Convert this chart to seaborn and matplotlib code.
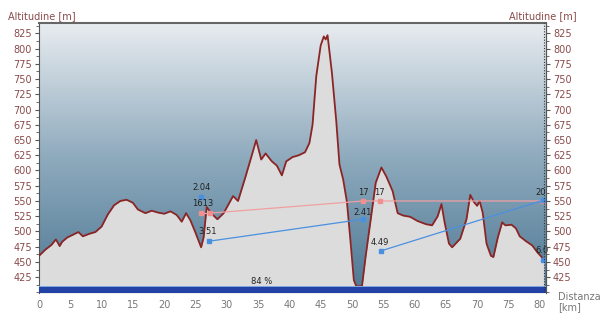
import numpy as np
import pandas as pd
import matplotlib
matplotlib.use("Agg")
import matplotlib.pyplot as plt
import seaborn as sns
from matplotlib.ticker import MultipleLocator
from matplotlib.colors import LinearSegmentedColormap

km = [0, 0.5, 1, 2, 2.7, 3.3, 3.7, 4.5, 5.5, 6.3, 7, 8, 9, 10, 11, 12, 13, 14, 15, 15.8,
      17, 18, 19, 20, 21, 22, 22.8, 23.5, 24.2, 25, 25.9, 26.3, 26.8, 27.5, 28.5, 29.5,
      30.2, 31, 31.8, 33, 34, 34.7, 35.5, 36.2, 37.2, 38, 38.8, 39.5, 40.5, 41.5, 42.5,
      43.2, 43.7, 44.3, 45, 45.5, 45.8, 46.1, 46.8, 47.5, 48, 48.6, 49.2, 49.8, 50.3,
      50.7, 51.6, 52.2, 53, 53.8, 54.7, 55.5, 56.5, 57.3, 58.2, 59.3, 60.5, 61.8, 62.8,
      63.7, 64.3, 64.8, 65.5, 66, 67.3, 68.3, 68.9, 69.5, 70, 70.4, 70.9, 71.5, 72.2,
      72.6, 73.3, 74, 74.5, 75.5, 76.2, 76.8, 77.8, 78.8, 79.6, 80.3, 80.7]
elev = [460, 465, 470, 478, 487, 476, 483, 490, 495, 499, 492, 496, 499, 508, 528, 543,
        550, 552, 547, 536, 530, 534, 531, 529, 533, 527, 516, 530, 518, 498, 474, 490,
        540, 530, 520, 530, 543, 558, 550, 590, 625, 650, 618, 628, 615, 608, 592, 615,
        622, 625, 630, 645, 675, 755, 805, 820, 815, 822, 760, 680, 610, 585, 548, 480,
        420, 410, 410, 460, 520, 580, 605, 590, 566, 530, 526, 524, 517, 512, 510, 525,
        545, 515, 480, 474, 488, 520, 560, 548, 542, 550, 530, 480, 460, 458, 490, 515,
        510, 511, 505, 492, 484, 477, 466, 458, 452]

# annotation series
blue_km = [27.2, 51.7]
blue_el = [484, 520]
blue2_km = [54.6, 80.5]
blue2_el = [468, 551]
pink_km = [25.9, 27.3, 51.8, 54.5, 80.5]
pink_el = [530, 530, 550, 550, 550]
labels = ["2.04", "1613", "3.51", "17", "17", "2.41", "4.49", "20", "6.0"]
label_km = [25.9, 26.2, 27.0, 51.8, 54.4, 51.7, 54.5, 80.2, 80.3]
label_el = [564, 538, 492, 557, 557, 524, 475, 557, 461]

xticks = list(range(0, 81, 5))
yticks = list(range(425, 826, 25))

df = pd.DataFrame({"km": km, "elev": elev})

sns.set_style("white")
fig = plt.figure(figsize=(6, 3.14), dpi=100)
ax = fig.add_axes([39/600, 21/314, (546-39)/600, (293-23)/314])
XMIN, XMAX, YMIN, YMAX = 0, 81, 399, 842
ax.set_xlim(XMIN, XMAX)
ax.set_ylim(YMIN, YMAX)

# gradient background
cmap = LinearSegmentedColormap.from_list("bg", ["#4d7894", "#8eaabd", "#e8ecf0"])
grad = np.linspace(0, 1, 256).reshape(-1, 1)
ax.imshow(grad, extent=[XMIN, XMAX, YMIN, YMAX], origin="lower", aspect="auto",
          cmap=cmap, zorder=0)

ax.fill_between(km, YMIN, elev, color="#dcdcdc", zorder=1, linewidth=0)
sns.lineplot(data=df, x="km", y="elev", ax=ax, color="#8b2525", linewidth=1.3,
             zorder=3, sort=False)

# bottom bar
ax.axhspan(YMIN, 409, color="#2242a6", zorder=4, linewidth=0)
ax.axhspan(409, 410.5, color="#7fa6e0", zorder=4, linewidth=0)
ax.text(35.5, 411, "84 %", fontsize=6, ha="center", va="bottom", color="#222222", zorder=6)

# annotations
ax.plot(pink_km[:2], pink_el[:2], color="#f0a0a0", lw=0.9, zorder=4)
ax.plot(pink_km[1:], pink_el[1:], color="#f0a0a0", lw=0.9, zorder=4)
ax.plot(pink_km, pink_el, "s", color="#f09090", ms=3, zorder=5)
ax.plot(blue_km, blue_el, color="#4a90e0", lw=0.9, zorder=4)
ax.plot(blue2_km, blue2_el, color="#4a90e0", lw=0.9, zorder=4)
ax.plot(blue_km + blue2_km + [25.9, 80.5], blue_el + blue2_el + [556, 453], "s",
        color="#4a90e0", ms=3, zorder=5)
for t, x, y in zip(labels, label_km, label_el):
    ax.text(x, y, t, fontsize=6, ha="center", va="bottom", color="#222222", zorder=6)

ax.axvline(80.7, color="#333333", lw=0.8, ls=(0, (1, 1.5)), zorder=5)

# axes styling
ax.set_xticks(xticks)
ax.set_yticks(yticks)
ax.yaxis.set_minor_locator(MultipleLocator(12.5))
ax.tick_params(axis="x", labelsize=7, colors="#777777", length=3, pad=2)
ax.tick_params(axis="y", which="major", labelsize=7, colors="#555555", labelcolor="#8b4a4a", length=3, pad=2)
ax.tick_params(axis="y", which="minor", length=2, colors="#555555")
ax.set_xlabel("")
ax.set_ylabel("")
for s in ["left", "right"]:
    ax.spines[s].set_color("#555555")
ax.spines["top"].set_color("#666666")
ax.spines["top"].set_linewidth(1.5)
ax.spines["bottom"].set_visible(False)
ax.yaxis.set_ticks_position("left")

ax2 = ax.twinx()
ax2.set_ylim(YMIN, YMAX)
ax2.set_yticks(yticks)
ax2.yaxis.set_minor_locator(MultipleLocator(12.5))
ax2.tick_params(axis="y", which="major", labelsize=7, colors="#555555", labelcolor="#8b4a4a", length=3, pad=2)
ax2.tick_params(axis="y", which="minor", length=2, colors="#555555")
for s in ax2.spines.values():
    s.set_visible(False)
ax2.spines["right"].set_visible(True)
ax2.spines["right"].set_color("#555555")

fig.text(8/600, 1 - 16/314, "Altitudine [m]", fontsize=7, color="#8b4a4a", va="center", ha="left")
fig.text(577/600, 1 - 16/314, "Altitudine [m]", fontsize=7, color="#8b4a4a", va="center", ha="right")
fig.text(558/600, 1 - 297/314, "Distanza", fontsize=7, color="#777777", va="center", ha="left")
fig.text(558/600, 1 - 307/314, "[km]", fontsize=7, color="#777777", va="center", ha="left")

fig.savefig("out.png", dpi=100)
